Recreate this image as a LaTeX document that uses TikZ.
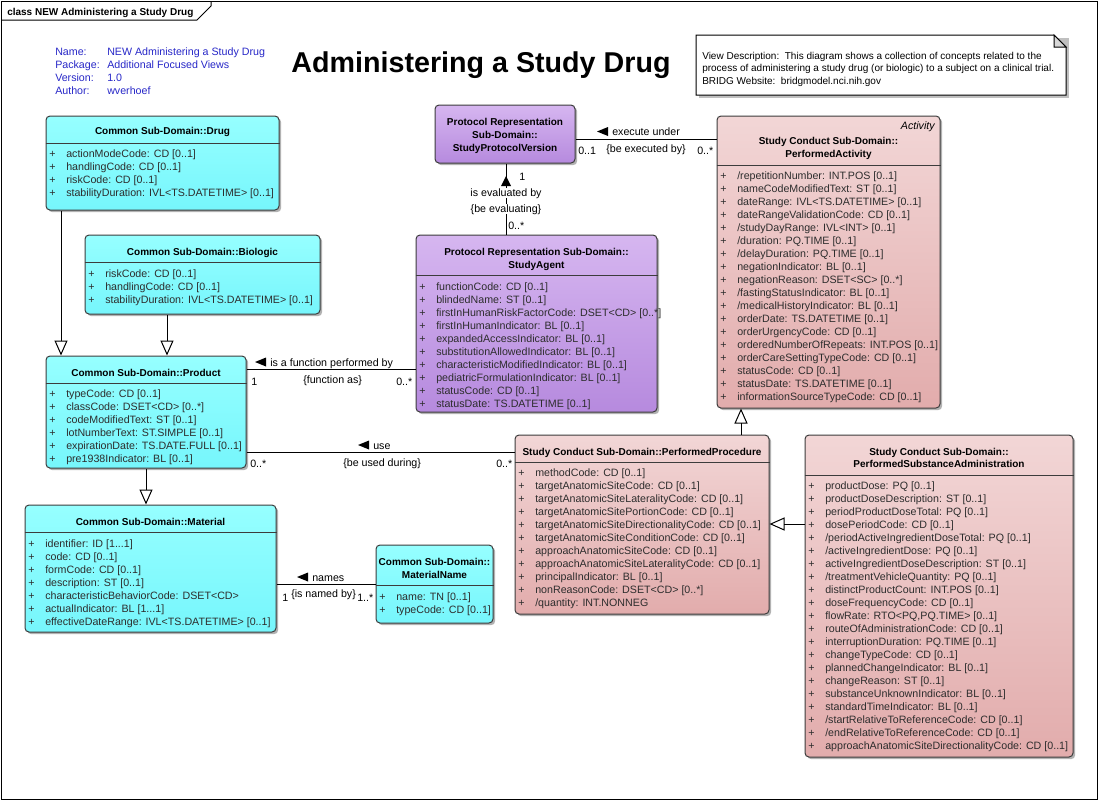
\documentclass[tikz,border=0pt]{standalone}
\usepackage{fontspec}
\setmainfont{Liberation Sans}
\usetikzlibrary{shadows,arrows.meta,fit}
\definecolor{cyanT}{RGB}{150,255,255}
\definecolor{cyanB}{RGB}{118,246,252}
\definecolor{pinkT}{RGB}{242,214,214}
\definecolor{pinkB}{RGB}{226,172,172}
\definecolor{purpT}{RGB}{214,182,240}
\definecolor{purpB}{RGB}{182,138,222}
\definecolor{edgec}{RGB}{60,60,60}
\definecolor{attrc}{RGB}{45,45,45}
\definecolor{metac}{RGB}{40,40,200}
\definecolor{foldc}{RGB}{215,215,215}

\newcommand\ar[1]{\makebox[12.75pt][l]{+}#1\\}

\tikzset{
 cbox/.style={draw=edgec, line width=0.75pt, rounded corners=3pt, inner sep=0pt,
   drop shadow={shadow xshift=1.6pt, shadow yshift=-1.6pt, opacity=0.3, fill=black}},
 cyanbox/.style={cbox, top color=cyanT, bottom color=cyanB},
 pinkbox/.style={cbox, top color=pinkT, bottom color=pinkB},
 purpbox/.style={cbox, top color=purpT, bottom color=purpB},
 sepline/.style={draw=edgec, line width=0.75pt},
 ctitle/.style={font=\fontsize{7.5}{9.75}\selectfont\bfseries, anchor=base, inner sep=0pt},
 attrs/.style={font=\fontsize{8}{9.75}\selectfont, text=attrc, anchor=base west, inner sep=0pt},
 lbl/.style={font=\fontsize{8}{9.75}\selectfont, anchor=base west, inner sep=0pt},
 assoc/.style={draw=black, line width=0.75pt},
 gen/.style={draw=black, line width=0.75pt, -{Triangle[open, length=11.25pt, width=9.75pt]}},
 dirmark/.style={fill=black},
}

\begin{document}
\begin{tikzpicture}[x=0.75pt,y=-0.75pt]
\useasboundingbox (0,0) rectangle (1099,801);
\fill[white] (0,0) rectangle (1099,801);
% frame
\draw[line width=0.75pt] (1,1) rectangle (1097,799);
\draw[line width=0.75pt] (1,20) -- (197,20) -- (211,6) -- (211,1);
\node[font=\fontsize{7.5}{9}\selectfont\bfseries, anchor=base west, inner sep=0pt] (frametab) at (7,15) {class NEW Administering a Study Drug};

% title
\node[font=\fontsize{21.5}{24}\selectfont\bfseries, anchor=base, inner sep=0pt] (title) at (481,72) {Administering a Study Drug};

% metadata
\node[font=\fontsize{8}{9.75}\selectfont, text=metac, anchor=base west, inner sep=0pt] (meta) at (55,55)
 {\begin{tabular}[t]{@{}l@{}}\makebox[39pt][l]{Name:}NEW Administering a Study Drug\\
 \makebox[39pt][l]{Package:}Additional Focused Views\\
 \makebox[39pt][l]{Version:}1.0\\
 \makebox[39pt][l]{Author:}wverhoef\end{tabular}};

% note
\fill[black!25] (699,38) -- (1069,38) -- (1069,98) -- (699,98) -- cycle;
\draw[line width=0.75pt, fill=white] (696,35) -- (1054,35) -- (1066,47) -- (1066,95) -- (696,95) -- cycle;
\draw[line width=0.75pt, fill=foldc] (1054,35) -- (1054,47) -- (1066,47) -- cycle;
\node[font=\fontsize{7.5}{9.375}\selectfont, anchor=base west, inner sep=0pt] (notetext) at (702,59)
 {\begin{tabular}[t]{@{}l@{}}View Description:\ \ This diagram shows a collection of concepts related to the\\
 process of administering a study drug (or biologic) to a subject on a clinical trial.\\
 BRIDG Website:\ \ bridgmodel.nci.nih.gov\end{tabular}};

% ---------- classes ----------
% Drug
\node[cyanbox, fit={(46,116) (279,210)}] (drug) {};
\draw[sepline] (drug.west |- 0,143) -- (drug.east |- 0,143);
\node[ctitle] (drug-t) at (162.5,134) {Common Sub-Domain::Drug};
\node[attrs] (drug-a) at (49,157) {\begin{tabular}[t]{@{}l@{}}
\ar{actionModeCode: CD [0..1]}
\ar{handlingCode: CD [0..1]}
\ar{riskCode: CD [0..1]}
\ar{stabilityDuration: IVL<TS.DATETIME> [0..1]}
\end{tabular}};

% Biologic
\node[cyanbox, fit={(85,235) (320,314)}] (biologic) {};
\draw[sepline] (biologic.west |- 0,262) -- (biologic.east |- 0,262);
\node[ctitle] (biologic-t) at (202.5,255) {Common Sub-Domain::Biologic};
\node[attrs] (biologic-a) at (88,277) {\begin{tabular}[t]{@{}l@{}}
\ar{riskCode: CD [0..1]}
\ar{handlingCode: CD [0..1]}
\ar{stabilityDuration: IVL<TS.DATETIME> [0..1]}
\end{tabular}};

% Product
\node[cyanbox, fit={(46,356) (246,468)}] (product) {};
\draw[sepline] (product.west |- 0,383) -- (product.east |- 0,383);
\node[ctitle] (product-t) at (146,376) {Common Sub-Domain::Product};
\node[attrs] (product-a) at (49,397) {\begin{tabular}[t]{@{}l@{}}
\ar{typeCode: CD [0..1]}
\ar{classCode: DSET<CD> [0..*]}
\ar{codeModifiedText: ST [0..1]}
\ar{lotNumberText: ST.SIMPLE [0..1]}
\ar{expirationDate: TS.DATE.FULL [0..1]}
\ar{pre1938Indicator: BL [0..1]}
\end{tabular}};

% Material
\node[cyanbox, fit={(25,505) (276,632)}] (material) {};
\draw[sepline] (material.west |- 0,532) -- (material.east |- 0,532);
\node[ctitle] (material-t) at (150.5,525) {Common Sub-Domain::Material};
\node[attrs] (material-a) at (28,547) {\begin{tabular}[t]{@{}l@{}}
\ar{identifier: ID [1...1]}
\ar{code: CD [0..1]}
\ar{formCode: CD [0..1]}
\ar{description: ST [0..1]}
\ar{characteristicBehaviorCode: DSET<CD>}
\ar{actualIndicator: BL [1...1]}
\ar{effectiveDateRange: IVL<TS.DATETIME> [0..1]}
\end{tabular}};

% MaterialName
\node[cyanbox, fit={(376,545) (493,623)}] (mname) {};
\draw[sepline] (mname.west |- 0,585) -- (mname.east |- 0,585);
\node[ctitle] (mname-t1) at (434.5,565) {Common Sub-Domain::};
\node[ctitle] (mname-t2) at (434.5,578) {MaterialName};
\node[attrs] (mname-a) at (379,600) {\begin{tabular}[t]{@{}l@{}}
\ar{name: TN [0..1]}
\ar{typeCode: CD [0..1]}
\end{tabular}};

% StudyProtocolVersion
\node[purpbox, fit={(435,105) (575,163)}] (spv) {};
\node[ctitle] (spv-t1) at (505,125) {Protocol Representation};
\node[ctitle] (spv-t2) at (505,138) {Sub-Domain::};
\node[ctitle] (spv-t3) at (505,151) {StudyProtocolVersion};

% StudyAgent
\node[purpbox, fit={(416,235) (657,412)}] (sa) {};
\draw[sepline] (sa.west |- 0,275) -- (sa.east |- 0,275);
\node[ctitle] (sa-t1) at (536.5,255) {Protocol Representation Sub-Domain::};
\node[ctitle] (sa-t2) at (536.5,268) {StudyAgent};
\node[attrs] (sa-a) at (419,290) {\begin{tabular}[t]{@{}l@{}}
\ar{functionCode: CD [0..1]}
\ar{blindedName: ST [0..1]}
\ar{firstInHumanRiskFactorCode: DSET<CD> [0..*]}
\ar{firstInHumanIndicator: BL [0..1]}
\ar{expandedAccessIndicator: BL [0..1]}
\ar{substitutionAllowedIndicator: BL [0..1]}
\ar{characteristicModifiedIndicator: BL [0..1]}
\ar{pediatricFormulationIndicator: BL [0..1]}
\ar{statusCode: CD [0..1]}
\ar{statusDate: TS.DATETIME [0..1]}
\end{tabular}};

% PerformedActivity
\node[pinkbox, fit={(717,116) (940,408)}] (pa) {};
\draw[sepline] (pa.west |- 0,165) -- (pa.east |- 0,165);
\node[font=\fontsize{8}{9.75}\selectfont\itshape, anchor=base east, inner sep=0pt] (pa-st) at (935,129) {Activity};
\node[ctitle] (pa-t1) at (828.5,144) {Study Conduct Sub-Domain::};
\node[ctitle] (pa-t2) at (828.5,157) {PerformedActivity};
\node[attrs] (pa-a) at (720,179.5) {\begin{tabular}[t]{@{}l@{}}
\ar{/repetitionNumber: INT.POS [0..1]}
\ar{nameCodeModifiedText: ST [0..1]}
\ar{dateRange: IVL<TS.DATETIME> [0..1]}
\ar{dateRangeValidationCode: CD [0..1]}
\ar{/studyDayRange: IVL<INT> [0..1]}
\ar{/duration: PQ.TIME [0..1]}
\ar{/delayDuration: PQ.TIME [0..1]}
\ar{negationIndicator: BL [0..1]}
\ar{negationReason: DSET<SC> [0..*]}
\ar{/fastingStatusIndicator: BL [0..1]}
\ar{/medicalHistoryIndicator: BL [0..1]}
\ar{orderDate: TS.DATETIME [0..1]}
\ar{orderUrgencyCode: CD [0..1]}
\ar{orderedNumberOfRepeats: INT.POS [0..1]}
\ar{orderCareSettingTypeCode: CD [0..1]}
\ar{statusCode: CD [0..1]}
\ar{statusDate: TS.DATETIME [0..1]}
\ar{informationSourceTypeCode: CD [0..1]}
\end{tabular}};

% PerformedProcedure
\node[pinkbox, fit={(515,435) (769,614)}] (pp) {};
\draw[sepline] (pp.west |- 0,462) -- (pp.east |- 0,462);
\node[ctitle] (pp-t) at (642,455) {Study Conduct Sub-Domain::PerformedProcedure};
\node[attrs] (pp-a) at (518,476.5) {\begin{tabular}[t]{@{}l@{}}
\ar{methodCode: CD [0..1]}
\ar{targetAnatomicSiteCode: CD [0..1]}
\ar{targetAnatomicSiteLateralityCode: CD [0..1]}
\ar{targetAnatomicSitePortionCode: CD [0..1]}
\ar{targetAnatomicSiteDirectionalityCode: CD [0..1]}
\ar{targetAnatomicSiteConditionCode: CD [0..1]}
\ar{approachAnatomicSiteCode: CD [0..1]}
\ar{approachAnatomicSiteLateralityCode: CD [0..1]}
\ar{principalIndicator: BL [0..1]}
\ar{nonReasonCode: DSET<CD> [0..*]}
\ar{/quantity: INT.NONNEG}
\end{tabular}};

% PerformedSubstanceAdministration
\node[pinkbox, fit={(805,435) (1073,757)}] (psa) {};
\draw[sepline] (psa.west |- 0,475) -- (psa.east |- 0,475);
\node[ctitle] (psa-t1) at (939,455) {Study Conduct Sub-Domain::};
\node[ctitle] (psa-t2) at (939,467.5) {PerformedSubstanceAdministration};
\node[attrs] (psa-a) at (808,489.5) {\begin{tabular}[t]{@{}l@{}}
\ar{productDose: PQ [0..1]}
\ar{productDoseDescription: ST [0..1]}
\ar{periodProductDoseTotal: PQ [0..1]}
\ar{dosePeriodCode: CD [0..1]}
\ar{/periodActiveIngredientDoseTotal: PQ [0..1]}
\ar{/activeIngredientDose: PQ [0..1]}
\ar{activeIngredientDoseDescription: ST [0..1]}
\ar{/treatmentVehicleQuantity: PQ [0..1]}
\ar{distinctProductCount: INT.POS [0..1]}
\ar{doseFrequencyCode: CD [0..1]}
\ar{flowRate: RTO<PQ,PQ.TIME> [0..1]}
\ar{routeOfAdministrationCode: CD [0..1]}
\ar{interruptionDuration: PQ.TIME [0..1]}
\ar{changeTypeCode: CD [0..1]}
\ar{plannedChangeIndicator: BL [0..1]}
\ar{changeReason: ST [0..1]}
\ar{substanceUnknownIndicator: BL [0..1]}
\ar{standardTimeIndicator: BL [0..1]}
\ar{/startRelativeToReferenceCode: CD [0..1]}
\ar{/endRelativeToReferenceCode: CD [0..1]}
\ar{approachAnatomicSiteDirectionalityCode: CD [0..1]}
\end{tabular}};

% ---------- connectors ----------
% generalizations
\draw[gen] (drug.south -| 61,0) -- (product.north -| 61,0);
\draw[gen] (biologic.south -| 167,0) -- (product.north -| 167,0);
\draw[gen] (product.south -| 146,0) -- (material.north -| 146,0);
\draw[gen] (pp.north -| 741,0) -- (pa.south -| 741,0);
\draw[gen] (psa.west |- 0,524) -- (pp.east |- 0,524);

% execute under
\draw[assoc] (spv.east |- 0,139) -- (pa.west |- 0,139);
\fill[dirmark] (597,131.5) -- (608,127) -- (608,136) -- cycle;
\node[lbl] (l-eu) at (612,135) {execute under};
\node[lbl] (l-eu1) at (578,154) {0..1};
\node[lbl] (l-eu2) at (606,152) {\{be executed by\}};
\node[lbl] (l-eu3) at (697,154) {0..*};

% is evaluated by
\draw[assoc] (spv.south -| 506,0) -- (sa.north -| 506,0);
\fill[dirmark] (506,176) -- (501,186) -- (511,186) -- cycle;
\node[lbl, anchor=base, fill=white] (l-ev) at (506,196) {is evaluated by};
\node[lbl, anchor=base, fill=white] (l-ev2) at (506,212) {\{be evaluating\}};
\node[lbl] (l-ev1) at (519,180) {1};
\node[lbl] (l-ev3) at (508,229) {0..*};

% is a function performed by
\draw[assoc] (product.east |- 0,369) -- (sa.west |- 0,369);
\fill[dirmark] (255,362) -- (266,357.5) -- (266,366.5) -- cycle;
\node[lbl] (l-fp) at (270,366) {is a function performed by};
\node[lbl] (l-fp1) at (251,385) {1};
\node[lbl] (l-fp2) at (303,383) {\{function as\}};
\node[lbl] (l-fp3) at (396,385) {0..*};

% use
\draw[assoc] (product.east |- 0,452) -- (pp.west |- 0,452);
\fill[dirmark] (358,445) -- (369,440.5) -- (369,449.5) -- cycle;
\node[lbl] (l-use) at (373,449) {use};
\node[lbl] (l-use1) at (250,467) {0..*};
\node[lbl] (l-use2) at (343,466) {\{be used during\}};
\node[lbl] (l-use3) at (496,467) {0..*};

% names
\draw[assoc] (material.east |- 0,584) -- (mname.west |- 0,584);
\fill[dirmark] (297,577) -- (308,572.5) -- (308,581.5) -- cycle;
\node[lbl] (l-nm) at (312,581) {names};
\node[lbl] (l-nm1) at (282,601) {1};
\node[lbl] (l-nm2) at (291,597) {\{is named by\}};
\node[lbl] (l-nm3) at (357,601) {1..*};
\end{tikzpicture}
\end{document}
